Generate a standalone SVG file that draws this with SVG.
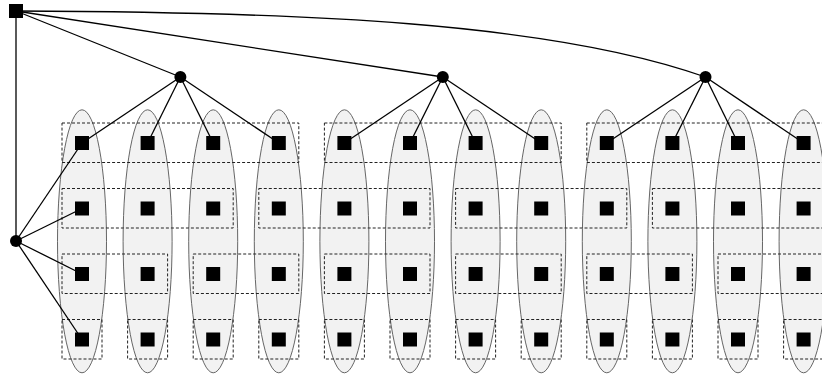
<svg xmlns="http://www.w3.org/2000/svg" width="822" height="376" viewBox="0 0 822 376">
  <style>
    .cluster { fill: #f2f2f2; stroke: #666666; stroke-width: 1; }
    .group { fill: none; stroke: #222222; stroke-width: 1; stroke-dasharray: 3 2; }
    .edge { fill: none; stroke: #000000; stroke-width: 1.3; }
    .leaf { fill: #000000; }
    .hub { fill: #000000; }
  </style>
  <rect width="822" height="376" fill="#ffffff"/>

  <!-- vertical clusters, one per column -->
  <g id="clusters">
    <ellipse class="cluster" cx="82" cy="241.3" rx="24.5" ry="131.5"/>
    <ellipse class="cluster" cx="147.6" cy="241.3" rx="24.5" ry="131.5"/>
    <ellipse class="cluster" cx="213.2" cy="241.3" rx="24.5" ry="131.5"/>
    <ellipse class="cluster" cx="278.8" cy="241.3" rx="24.5" ry="131.5"/>
    <ellipse class="cluster" cx="344.4" cy="241.3" rx="24.5" ry="131.5"/>
    <ellipse class="cluster" cx="410" cy="241.3" rx="24.5" ry="131.5"/>
    <ellipse class="cluster" cx="475.6" cy="241.3" rx="24.5" ry="131.5"/>
    <ellipse class="cluster" cx="541.2" cy="241.3" rx="24.5" ry="131.5"/>
    <ellipse class="cluster" cx="606.8" cy="241.3" rx="24.5" ry="131.5"/>
    <ellipse class="cluster" cx="672.4" cy="241.3" rx="24.5" ry="131.5"/>
    <ellipse class="cluster" cx="738" cy="241.3" rx="24.5" ry="131.5"/>
    <ellipse class="cluster" cx="803.6" cy="241.3" rx="24.5" ry="131.5"/>
  </g>

  <!-- dashed row groupings -->
  <g id="groups">
    <!-- row 1: groups of four -->
    <rect class="group" x="62" y="123" width="236.8" height="39.5"/>
    <rect class="group" x="324.4" y="123" width="236.8" height="39.5"/>
    <rect class="group" x="586.8" y="123" width="236.8" height="39.5"/>
    <!-- row 2: groups of three -->
    <rect class="group" x="62" y="188.5" width="171.2" height="39.5"/>
    <rect class="group" x="258.8" y="188.5" width="171.2" height="39.5"/>
    <rect class="group" x="455.6" y="188.5" width="171.2" height="39.5"/>
    <rect class="group" x="652.4" y="188.5" width="171.2" height="39.5"/>
    <!-- row 3: pairs -->
    <rect class="group" x="62" y="254" width="105.6" height="39.5"/>
    <rect class="group" x="193.2" y="254" width="105.6" height="39.5"/>
    <rect class="group" x="324.4" y="254" width="105.6" height="39.5"/>
    <rect class="group" x="455.6" y="254" width="105.6" height="39.5"/>
    <rect class="group" x="586.8" y="254" width="105.6" height="39.5"/>
    <rect class="group" x="718" y="254" width="105.6" height="39.5"/>
    <!-- row 4: singles -->
    <rect class="group" x="62" y="319.5" width="40" height="39.5"/>
    <rect class="group" x="127.6" y="319.5" width="40" height="39.5"/>
    <rect class="group" x="193.2" y="319.5" width="40" height="39.5"/>
    <rect class="group" x="258.8" y="319.5" width="40" height="39.5"/>
    <rect class="group" x="324.4" y="319.5" width="40" height="39.5"/>
    <rect class="group" x="390" y="319.5" width="40" height="39.5"/>
    <rect class="group" x="455.6" y="319.5" width="40" height="39.5"/>
    <rect class="group" x="521.2" y="319.5" width="40" height="39.5"/>
    <rect class="group" x="586.8" y="319.5" width="40" height="39.5"/>
    <rect class="group" x="652.4" y="319.5" width="40" height="39.5"/>
    <rect class="group" x="718" y="319.5" width="40" height="39.5"/>
    <rect class="group" x="783.6" y="319.5" width="40" height="39.5"/>
  </g>

  <!-- connectors -->
  <g id="edges">
    <line class="edge" x1="16" y1="11" x2="16" y2="241"/>
    <line class="edge" x1="16" y1="11" x2="180.4" y2="77"/>
    <line class="edge" x1="16" y1="11" x2="442.8" y2="77"/>
    <path class="edge" d="M16,11 C300,12 550,22 705.5,77"/>

    <line class="edge" x1="180.4" y1="77" x2="82" y2="143"/>
    <line class="edge" x1="180.4" y1="77" x2="147.6" y2="143"/>
    <line class="edge" x1="180.4" y1="77" x2="213.2" y2="143"/>
    <line class="edge" x1="180.4" y1="77" x2="278.8" y2="143"/>

    <line class="edge" x1="442.8" y1="77" x2="344.4" y2="143"/>
    <line class="edge" x1="442.8" y1="77" x2="410" y2="143"/>
    <line class="edge" x1="442.8" y1="77" x2="475.6" y2="143"/>
    <line class="edge" x1="442.8" y1="77" x2="541.2" y2="143"/>

    <line class="edge" x1="705.5" y1="77" x2="606.8" y2="143"/>
    <line class="edge" x1="705.5" y1="77" x2="672.4" y2="143"/>
    <line class="edge" x1="705.5" y1="77" x2="738" y2="143"/>
    <line class="edge" x1="705.5" y1="77" x2="803.6" y2="143"/>

    <line class="edge" x1="16" y1="241" x2="82" y2="143"/>
    <line class="edge" x1="16" y1="241" x2="82" y2="208.5"/>
    <line class="edge" x1="16" y1="241" x2="82" y2="274"/>
    <line class="edge" x1="16" y1="241" x2="82" y2="339.5"/>
  </g>

  <!-- hub nodes -->
  <g id="root"><rect class="hub" x="9" y="4" width="14" height="14"/></g>
  <g id="side"><circle class="hub" cx="16" cy="241" r="6"/></g>
  <g id="hub-a"><circle class="hub" cx="180.4" cy="77" r="6"/></g>
  <g id="hub-b"><circle class="hub" cx="442.8" cy="77" r="6"/></g>
  <g id="hub-c"><circle class="hub" cx="705.5" cy="77" r="6"/></g>

  <!-- leaf nodes: 12 columns x 4 rows -->
  <g id="r1c1"><rect class="leaf" x="75" y="136" width="14" height="14"/></g>
  <g id="r1c2"><rect class="leaf" x="140.6" y="136" width="14" height="14"/></g>
  <g id="r1c3"><rect class="leaf" x="206.2" y="136" width="14" height="14"/></g>
  <g id="r1c4"><rect class="leaf" x="271.8" y="136" width="14" height="14"/></g>
  <g id="r1c5"><rect class="leaf" x="337.4" y="136" width="14" height="14"/></g>
  <g id="r1c6"><rect class="leaf" x="403" y="136" width="14" height="14"/></g>
  <g id="r1c7"><rect class="leaf" x="468.6" y="136" width="14" height="14"/></g>
  <g id="r1c8"><rect class="leaf" x="534.2" y="136" width="14" height="14"/></g>
  <g id="r1c9"><rect class="leaf" x="599.8" y="136" width="14" height="14"/></g>
  <g id="r1c10"><rect class="leaf" x="665.4" y="136" width="14" height="14"/></g>
  <g id="r1c11"><rect class="leaf" x="731" y="136" width="14" height="14"/></g>
  <g id="r1c12"><rect class="leaf" x="796.6" y="136" width="14" height="14"/></g>

  <g id="r2c1"><rect class="leaf" x="75" y="201.5" width="14" height="14"/></g>
  <g id="r2c2"><rect class="leaf" x="140.6" y="201.5" width="14" height="14"/></g>
  <g id="r2c3"><rect class="leaf" x="206.2" y="201.5" width="14" height="14"/></g>
  <g id="r2c4"><rect class="leaf" x="271.8" y="201.5" width="14" height="14"/></g>
  <g id="r2c5"><rect class="leaf" x="337.4" y="201.5" width="14" height="14"/></g>
  <g id="r2c6"><rect class="leaf" x="403" y="201.5" width="14" height="14"/></g>
  <g id="r2c7"><rect class="leaf" x="468.6" y="201.5" width="14" height="14"/></g>
  <g id="r2c8"><rect class="leaf" x="534.2" y="201.5" width="14" height="14"/></g>
  <g id="r2c9"><rect class="leaf" x="599.8" y="201.5" width="14" height="14"/></g>
  <g id="r2c10"><rect class="leaf" x="665.4" y="201.5" width="14" height="14"/></g>
  <g id="r2c11"><rect class="leaf" x="731" y="201.5" width="14" height="14"/></g>
  <g id="r2c12"><rect class="leaf" x="796.6" y="201.5" width="14" height="14"/></g>

  <g id="r3c1"><rect class="leaf" x="75" y="267" width="14" height="14"/></g>
  <g id="r3c2"><rect class="leaf" x="140.6" y="267" width="14" height="14"/></g>
  <g id="r3c3"><rect class="leaf" x="206.2" y="267" width="14" height="14"/></g>
  <g id="r3c4"><rect class="leaf" x="271.8" y="267" width="14" height="14"/></g>
  <g id="r3c5"><rect class="leaf" x="337.4" y="267" width="14" height="14"/></g>
  <g id="r3c6"><rect class="leaf" x="403" y="267" width="14" height="14"/></g>
  <g id="r3c7"><rect class="leaf" x="468.6" y="267" width="14" height="14"/></g>
  <g id="r3c8"><rect class="leaf" x="534.2" y="267" width="14" height="14"/></g>
  <g id="r3c9"><rect class="leaf" x="599.8" y="267" width="14" height="14"/></g>
  <g id="r3c10"><rect class="leaf" x="665.4" y="267" width="14" height="14"/></g>
  <g id="r3c11"><rect class="leaf" x="731" y="267" width="14" height="14"/></g>
  <g id="r3c12"><rect class="leaf" x="796.6" y="267" width="14" height="14"/></g>

  <g id="r4c1"><rect class="leaf" x="75" y="332.5" width="14" height="14"/></g>
  <g id="r4c2"><rect class="leaf" x="140.6" y="332.5" width="14" height="14"/></g>
  <g id="r4c3"><rect class="leaf" x="206.2" y="332.5" width="14" height="14"/></g>
  <g id="r4c4"><rect class="leaf" x="271.8" y="332.5" width="14" height="14"/></g>
  <g id="r4c5"><rect class="leaf" x="337.4" y="332.5" width="14" height="14"/></g>
  <g id="r4c6"><rect class="leaf" x="403" y="332.5" width="14" height="14"/></g>
  <g id="r4c7"><rect class="leaf" x="468.6" y="332.5" width="14" height="14"/></g>
  <g id="r4c8"><rect class="leaf" x="534.2" y="332.5" width="14" height="14"/></g>
  <g id="r4c9"><rect class="leaf" x="599.8" y="332.5" width="14" height="14"/></g>
  <g id="r4c10"><rect class="leaf" x="665.4" y="332.5" width="14" height="14"/></g>
  <g id="r4c11"><rect class="leaf" x="731" y="332.5" width="14" height="14"/></g>
  <g id="r4c12"><rect class="leaf" x="796.6" y="332.5" width="14" height="14"/></g>
</svg>
